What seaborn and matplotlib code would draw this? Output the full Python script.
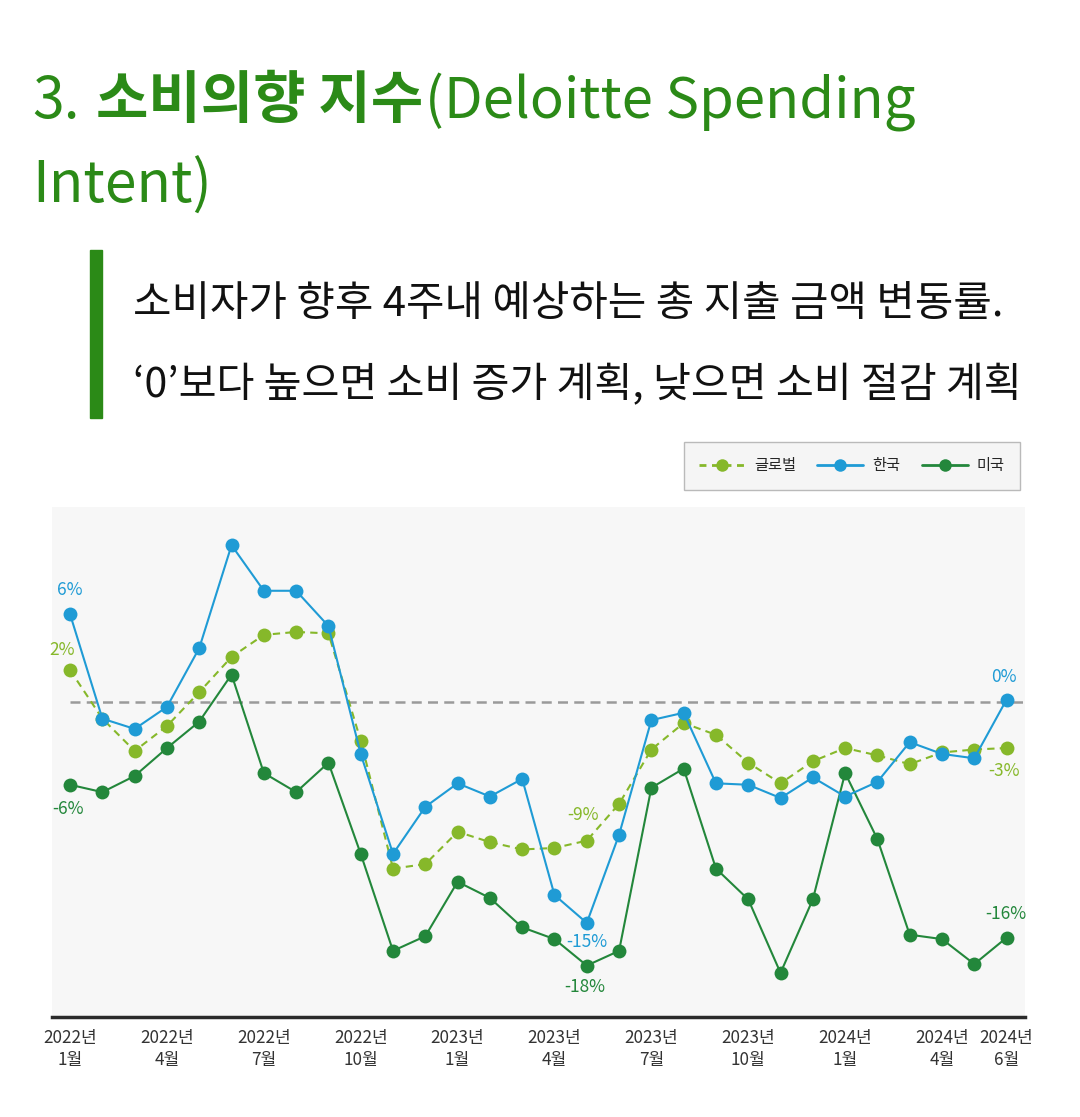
"""
소비의향 지수 (Deloitte Spending Intent) 라인 차트
"""

import matplotlib.pyplot as plt
import seaborn as sns
import pandas as pd
import numpy as np
from matplotlib.lines import Line2D

# 데이터 (2022년 1월 ~ 2024년 6월, 월별)
months = pd.period_range("2022-01", "2024-06", freq="M")
global_vals = [2.2, -1.1, -3.3, -1.6, 0.7, 3.1, 4.6, 4.8, 4.7, -2.6,
               -11.3, -11.0, -8.8, -9.5, -10.0, -9.9, -9.4, -6.9, -3.2, -1.4,
               -2.2, -4.1, -5.5, -4.0, -3.1, -3.6, -4.2, -3.4, -3.2, -3.1]
korea_vals = [6.0, -1.1, -1.8, -0.3, 3.7, 10.7, 7.6, 7.6, 5.2, -3.5,
              -10.3, -7.1, -5.5, -6.4, -5.2, -13.1, -15.0, -9.0, -1.2, -0.7,
              -5.5, -5.6, -6.5, -5.1, -6.4, -5.4, -2.7, -3.5, -3.8, 0.2]
us_vals = [-5.6, -6.1, -5.0, -3.1, -1.3, 1.9, -4.8, -6.1, -4.1, -10.3,
           -16.9, -15.9, -12.2, -13.3, -15.3, -16.1, -17.9, -16.9, -5.8, -4.5,
           -11.3, -13.4, -18.4, -13.4, -4.8, -9.3, -15.8, -16.1, -17.8, -16.0]

tick_idx = [0, 3, 6, 9, 12, 15, 18, 21, 24, 27, 29]
tick_labels = [f"{months[i].year}년\n{months[i].month}월" for i in tick_idx]

series_names = ["글로벌", "한국", "미국"]
colors = {"글로벌": "#86b82a", "한국": "#1f9bd5", "미국": "#23873b"}

df = pd.DataFrame({
    "idx": np.arange(len(months)),
    "글로벌": global_vals,
    "한국": korea_vals,
    "미국": us_vals,
})

sns.set_style("white")
plt.rcParams['font.family'] = ['Noto Sans CJK KR', 'DejaVu Sans']
plt.rcParams['axes.unicode_minus'] = False

W, H = 1080, 1117
fig = plt.figure(figsize=(W / 100, H / 100), dpi=100)
fig.patch.set_facecolor("white")

ax = fig.add_axes([52 / W, 1 - 1017 / H, (1025 - 52) / W, (1017 - 507) / H])
ax.set_facecolor("#f7f7f7")

xlo, xhi = -0.56, 29.57
ax.set_xlim(xlo, xhi)
ax.set_ylim(-21.4, 13.3)

# 0 기준선
ax.axhline(0, xmin=(0 - xlo) / (xhi - xlo), xmax=1, color="#9a9a9a",
           lw=1.8, ls=(0, (4, 2.5)), zorder=1)

# 라인 (미국 -> 글로벌 -> 한국 순서로 그림)
sns.lineplot(data=df, x="idx", y="미국", color=colors["미국"], marker="o",
             markersize=10, markeredgewidth=0, linewidth=1.5, ax=ax, zorder=3)
sns.lineplot(data=df, x="idx", y="글로벌", color=colors["글로벌"], marker="o",
             markersize=10, markeredgewidth=0, linewidth=1.5,
             linestyle=(0, (3.5, 2.5)), ax=ax, zorder=4)
sns.lineplot(data=df, x="idx", y="한국", color=colors["한국"], marker="o",
             markersize=10, markeredgewidth=0, linewidth=1.5, ax=ax, zorder=5)

# 값 라벨
def label(name, i, dx, dy):
    v = df[name].iloc[i]
    ax.annotate(f"{v:.0f}%", xy=(i, v), xytext=(dx, dy), textcoords="offset pixels",
                ha="center", va="center", fontsize=12.5, color=colors[name], zorder=6)

label("한국", 0, 0, 24)
label("글로벌", 0, -8, 20)
label("미국", 0, -2, -24)
label("글로벌", 16, -4, 26)
label("한국", 16, 0, -19)
label("미국", 16, -2, -21)
label("한국", 29, -3, 23)
label("글로벌", 29, -3, -23)
label("미국", 29, -1, 24)

# 축 설정
ax.set_xticks(tick_idx)
ax.set_xticklabels(tick_labels, fontsize=12.3, color="#333333", linespacing=1.25)
ax.tick_params(axis="x", length=0, pad=9)
ax.set_yticks([])
ax.set_xlabel("")
ax.set_ylabel("")
for s in ["top", "left", "right"]:
    ax.spines[s].set_visible(False)
ax.spines["bottom"].set_color("#2b2b2b")
ax.spines["bottom"].set_linewidth(2.5)

# 범례
handles = [
    Line2D([], [], color=colors["글로벌"], lw=2, ls=(0, (2.5, 2)), marker="o",
           markersize=9, markeredgewidth=0),
    Line2D([], [], color=colors["한국"], lw=2, marker="o", markersize=9, markeredgewidth=0),
    Line2D([], [], color=colors["미국"], lw=2, marker="o", markersize=9, markeredgewidth=0),
]
leg = fig.legend(handles, series_names, loc="upper right",
                 bbox_to_anchor=(1020 / W, 1 - 442 / H), ncol=3, fontsize=11,
                 frameon=True, fancybox=False, edgecolor="#aaaaaa",
                 facecolor="#f3f3f3", handlelength=3.0, columnspacing=1.4,
                 handletextpad=0.6, borderpad=1.0, borderaxespad=0)
leg.get_frame().set_linewidth(1.0)

# 제목
title_color = "#2b8a17"
fig.canvas.draw()
renderer = fig.canvas.get_renderer()
y1 = 1 - 118 / H
t = fig.text(32 / W, y1, "3.", fontsize=41, color=title_color, va="baseline")
x = t.get_window_extent(renderer).x1 + 17
t = fig.text(x / W, y1, "소비의향 지수", fontsize=41, color=title_color,
             fontweight="bold", va="baseline")
x = t.get_window_extent(renderer).x1 + 1
fig.text(x / W, y1, "(Deloitte Spending", fontsize=40.5, color=title_color, va="baseline")
fig.text(32 / W, 1 - 203 / H, "Intent)", fontsize=41, color=title_color, va="baseline")

# 설명 박스
fig.patches.append(plt.Rectangle((90 / W, 1 - 418 / H), 12 / W, 168 / H,
                                 transform=fig.transFigure, color=title_color))
fig.text(133 / W, 1 - 316 / H, "소비자가 향후 4주내 예상하는 총 지출 금액 변동률.",
         fontsize=30.1, color="#111111", va="baseline")
fig.text(133 / W, 1 - 397 / H, "‘0’보다 높으면 소비 증가 계획, 낮으면 소비 절감 계획",
         fontsize=29.7, color="#111111", va="baseline")

plt.savefig("out.png", dpi=100, facecolor="white")
